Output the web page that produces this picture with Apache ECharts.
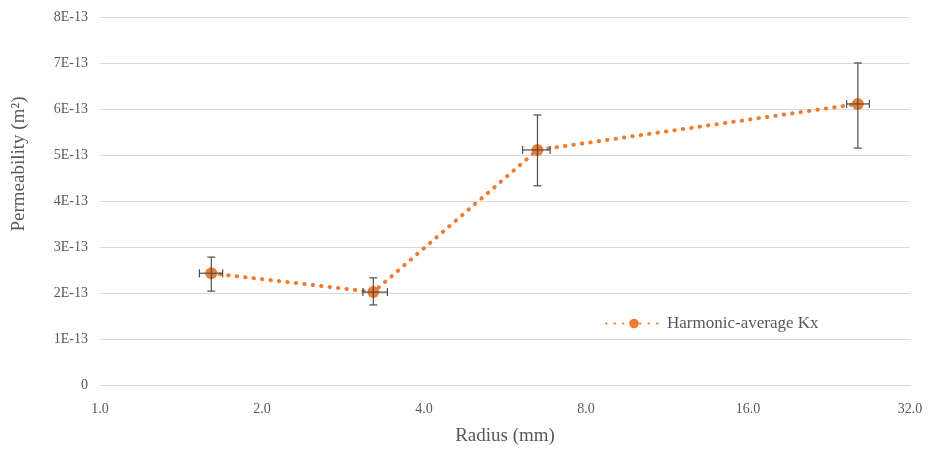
<!DOCTYPE html>
<html>
<head>
<meta charset="utf-8">
<script src="https://cdn.jsdelivr.net/npm/echarts@6/dist/echarts.min.js"></script>
<style>
  html, body { margin: 0; padding: 0; background: #fff; }
  #main { width: 933px; height: 451px; }
</style>
</head>
<body>
<div id="main"></div>
<script>
// radius (mm) and harmonic-average permeability Kx (m^2)
var radius = [1.61, 3.22, 6.5, 25.6];
var kx = [2.43e-13, 2.02e-13, 5.11e-13, 6.11e-13];
// error bars
var kxLow = [2.04e-13, 1.74e-13, 4.33e-13, 5.15e-13];
var kxHigh = [2.78e-13, 2.33e-13, 5.87e-13, 7.0e-13];
var radiusLow = [1.53, 3.08, 6.1, 24.4];
var radiusHigh = [1.69, 3.42, 6.86, 26.9];
var yTicks = ['0', '1E-13', '2E-13', '3E-13', '4E-13', '5E-13', '6E-13', '7E-13', '8E-13'];

var font = '"Liberation Serif", "Times New Roman", serif';
var grey = '#595959';

var points = radius.map(function (r, i) { return [r, kx[i]]; });
var errData = radius.map(function (r, i) {
    return [r, kx[i], radiusLow[i], radiusHigh[i], kxLow[i], kxHigh[i]];
});

var myChart = echarts.init(document.getElementById('main'));

function renderError(params, api) {
    var x = api.value(0), y = api.value(1);
    var c = api.coord([x, y]);
    var top = api.coord([x, api.value(5)]);
    var bot = api.coord([x, api.value(4)]);
    var left = api.coord([api.value(2), y]);
    var right = api.coord([api.value(3), y]);
    var cap = 4;
    var style = { stroke: '#4d4d4d', lineWidth: 1.2 };
    var seg = function (x1, y1, x2, y2) {
        return { type: 'line', shape: { x1: x1, y1: y1, x2: x2, y2: y2 }, style: style };
    };
    return {
        type: 'group',
        children: [
            seg(c[0], top[1], c[0], bot[1]),
            seg(c[0] - cap, top[1], c[0] + cap, top[1]),
            seg(c[0] - cap, bot[1], c[0] + cap, bot[1]),
            seg(left[0], c[1], right[0], c[1]),
            seg(left[0], c[1] - cap, left[0], c[1] + cap),
            seg(right[0], c[1] - cap, right[0], c[1] + cap)
        ]
    };
}

var option = {
    animation: false,
    textStyle: { fontFamily: font },
    grid: { left: 100, right: 23, top: 17, bottom: 66, outerBoundsMode: 'none' },
    legend: {
        left: 600,
        top: 310,
        itemWidth: 56,
        itemHeight: 12,
        textStyle: { fontFamily: font, fontSize: 17, color: grey },
        data: ['Harmonic-average Kx']
    },
    xAxis: {
        type: 'log',
        logBase: 2,
        min: 1,
        max: 32,
        name: 'Radius (mm)',
        nameLocation: 'middle',
        nameGap: 42,
        nameTextStyle: { fontFamily: font, fontSize: 19, color: grey },
        axisLine: { lineStyle: { color: '#d9d9d9', width: 1 } },
        axisTick: { show: false },
        axisLabel: {
            fontFamily: font, fontSize: 14, color: grey, margin: 17,
            formatter: function (v) { return v.toFixed(1); }
        },
        splitLine: { show: false },
        minorTick: { show: false }
    },
    yAxis: {
        type: 'value',
        min: 0,
        max: 8e-13,
        interval: 1e-13,
        axisLine: { show: false },
        axisTick: { show: false },
        axisLabel: {
            fontFamily: font, fontSize: 14, color: grey, margin: 12,
            formatter: function (v) { return yTicks[Math.round(v / 1e-13)]; }
        },
        splitLine: { lineStyle: { color: '#d9d9d9', width: 1 } }
    },
    graphic: [{
        type: 'text',
        x: 19,
        y: 164,
        rotation: Math.PI / 2,
        style: {
            text: 'Permeability (m²)',
            font: '19px ' + font,
            fill: grey,
            align: 'center',
            verticalAlign: 'middle'
        }
    }],
    series: [{
        name: 'Harmonic-average Kx',
        type: 'line',
        data: points,
        symbol: 'circle',
        symbolSize: 12,
        z: 3,
        itemStyle: { color: '#ed7d31' },
        lineStyle: { color: '#ed7d31', width: 4, type: [0.5, 8], cap: 'round' }
    }, {
        type: 'custom',
        data: errData,
        renderItem: renderError,
        z: 4,
        silent: true
    }]
};

myChart.setOption(option);
</script>
</body>
</html>
